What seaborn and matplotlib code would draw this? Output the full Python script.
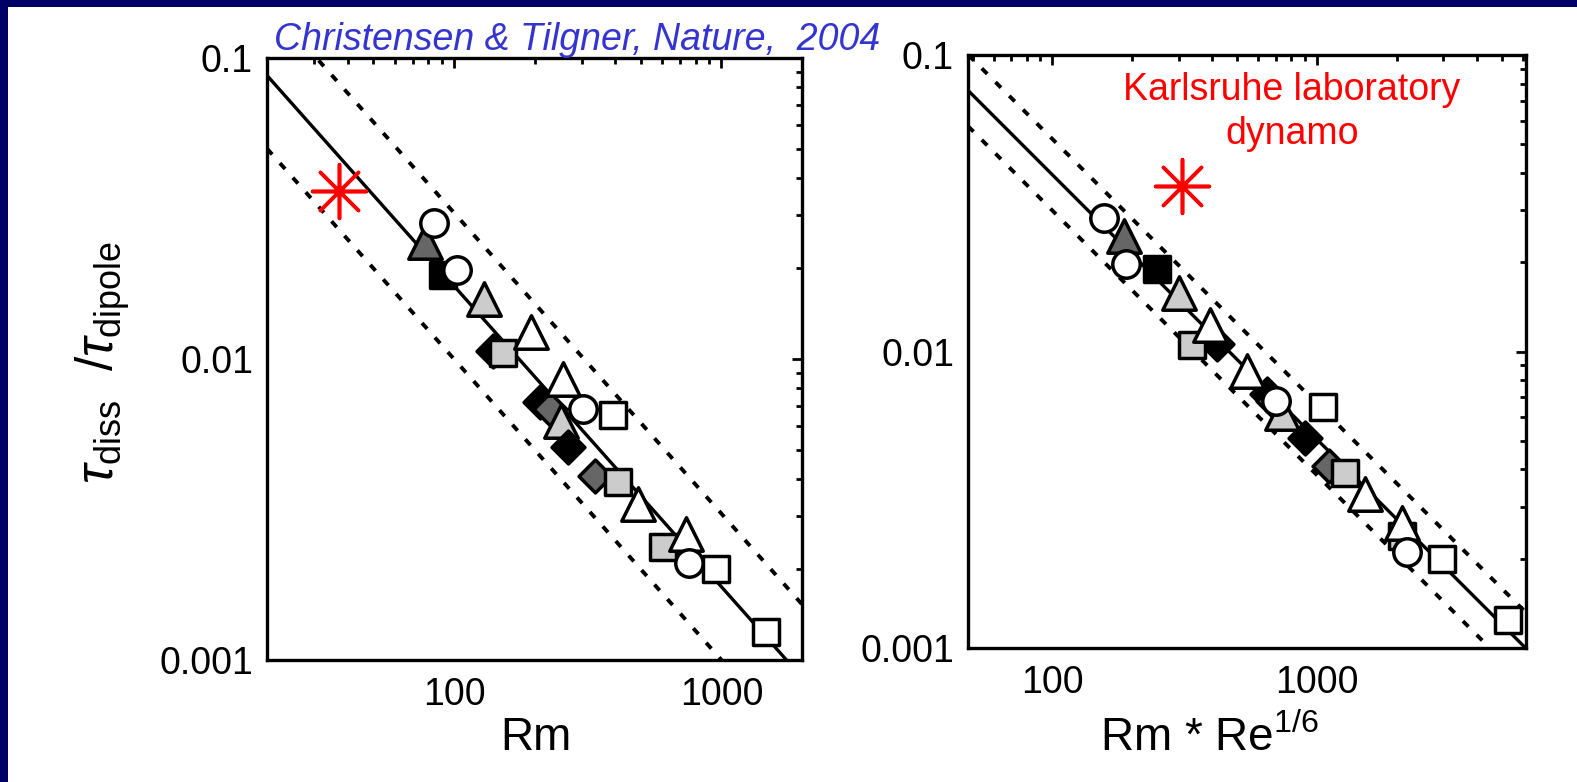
import numpy as np
import pandas as pd
import matplotlib
matplotlib.use("Agg")
import matplotlib.pyplot as plt
import seaborn as sns
from matplotlib.patches import Rectangle
from matplotlib.ticker import LogLocator, FixedLocator, FixedFormatter, NullFormatter

# ---------------- data ----------------
kinds = ["dgray_tri", "open_circle", "black_sq", "open_circle", "lgray_tri",
         "black_dia", "lgray_sq", "open_tri", "black_dia", "dgray_dia",
         "lgray_tri", "open_tri", "black_dia", "open_circle", "open_sq",
         "dgray_dia", "lgray_sq", "open_tri", "lgray_sq", "open_tri",
         "open_circle", "open_sq", "open_sq"]
rm = [78, 84.5, 90.6, 103, 129, 140, 152, 194, 209, 228, 251, 255, 267, 303,
      394, 337, 410, 488, 605, 739, 758, 955, 1462]
rm_re = [186, 157, 248, 190, 300, 417, 337, 395, 646, 680, 736, 543, 902, 700,
         1048, 1110, 1276, 1514, 2090, 2100, 2180, 2960, 5260]
tau_ratio = [0.0245, 0.0282, 0.0190, 0.0198, 0.0158, 0.0106, 0.0105, 0.0123,
             0.0072, 0.0068, 0.0062, 0.0086, 0.0051, 0.0068, 0.0065, 0.0041,
             0.0039, 0.0033, 0.00238, 0.00263, 0.0021, 0.0020, 0.00124]

karlsruhe_rm = [37.2]
karlsruhe_rmre = [308]
karlsruhe_tau = [0.0361]

# fit parameters: tau = A * x**b, dashed = fit * / factor
fit_left = (1.75, -1.0, 1.75)
fit_right = (2.41, -0.893, 1.32)

xlim_left = (20, 2000)
xlim_right = (48, 6150)
ylim = (0.001, 0.1)

x_ticks = [100, 1000]
x_ticklabels = ["100", "1000"]
y_ticks = [0.001, 0.01, 0.1]
y_ticklabels = ["0.001", "0.01", "0.1"]

title_text = "Christensen & Tilgner, Nature,  2004"
annot_text = "Karlsruhe laboratory\ndynamo"

# ---------------- style ----------------
sns.set_style("white")
plt.rcParams["font.family"] = ["Liberation Sans", "DejaVu Sans"]
plt.rcParams["mathtext.fontset"] = "custom"
plt.rcParams["mathtext.rm"] = "Liberation Sans"
plt.rcParams["mathtext.it"] = "Liberation Sans:italic"
plt.rcParams["mathtext.bf"] = "Liberation Sans:bold"
for k in ["text.color", "axes.labelcolor", "xtick.color", "ytick.color",
          "axes.edgecolor"]:
    plt.rcParams[k] = "black"

marker_style = {
    "open_circle": dict(marker="o", color="white", s=390),
    "open_tri": dict(marker="^", color="white", s=580),
    "open_sq": dict(marker="s", color="white", s=330),
    "black_sq": dict(marker="s", color="black", s=330),
    "black_dia": dict(marker="D", color="black", s=280),
    "dgray_dia": dict(marker="D", color="#666666", s=280),
    "dgray_tri": dict(marker="^", color="#666666", s=580),
    "lgray_tri": dict(marker="^", color="#cccccc", s=580),
    "lgray_sq": dict(marker="s", color="#cccccc", s=330),
}

W, H = 1577, 782
fig = plt.figure(figsize=(W / 100, H / 100), dpi=100)
fig.patch.set_facecolor("white")

# navy frame (top and left)
navy = "#000066"
fig.add_artist(Rectangle((0, 1 - 7 / H), 1, 7 / H, transform=fig.transFigure,
                         facecolor=navy, edgecolor="none", zorder=10))
fig.add_artist(Rectangle((0, 0), 8 / W, 1, transform=fig.transFigure,
                         facecolor=navy, edgecolor="none", zorder=10))

ax1 = fig.add_axes([267 / W, (H - 660) / H, 535 / W, 602 / H])
ax2 = fig.add_axes([968 / W, (H - 648) / H, 558 / W, 593 / H])


def draw_panel(ax, xvals, kx, fit, xlim):
    ax.set_xscale("log")
    ax.set_yscale("log")
    A, b, f = fit
    xs = np.geomspace(xlim[0], xlim[1], 200)
    line_df = pd.DataFrame({"x": xs, "mid": A * xs ** b,
                            "up": A * f * xs ** b, "low": A / f * xs ** b})
    sns.lineplot(data=line_df, x="x", y="mid", ax=ax, color="black", lw=2.4,
                 zorder=2)
    for c in ["up", "low"]:
        sns.lineplot(data=line_df, x="x", y=c, ax=ax, color="black", lw=2.8,
                     linestyle=(0, (2.0, 3.0)), zorder=2)
    df = pd.DataFrame({"x": xvals, "y": tau_ratio, "kind": kinds})
    for i, row in df.iterrows():
        st = marker_style[row["kind"]]
        sns.scatterplot(x=[row["x"]], y=[row["y"]], ax=ax, marker=st["marker"],
                        color=st["color"], s=st["s"], edgecolor="black",
                        linewidth=2.5, zorder=3 + i * 0.01, legend=False)
    sns.scatterplot(x=kx, y=karlsruhe_tau, ax=ax, marker=(8, 2, 0),
                    color="red", edgecolor="red", s=1500, linewidth=2.6,
                    zorder=5, legend=False)
    ax.set_xlim(*xlim)
    ax.set_ylim(*ylim)
    ax.xaxis.set_major_locator(FixedLocator(x_ticks))
    ax.xaxis.set_major_formatter(FixedFormatter(x_ticklabels))
    ax.xaxis.set_minor_locator(LogLocator(base=10, subs=np.arange(2, 10)))
    ax.xaxis.set_minor_formatter(NullFormatter())
    ax.yaxis.set_major_locator(FixedLocator(y_ticks))
    ax.yaxis.set_major_formatter(FixedFormatter(y_ticklabels))
    ax.yaxis.set_minor_locator(LogLocator(base=10, subs=np.arange(2, 10)))
    ax.yaxis.set_minor_formatter(NullFormatter())
    ax.tick_params(which="both", direction="in", top=True, right=True,
                   color="black", labelcolor="black", labelsize=27, width=2)
    ax.tick_params(which="major", length=7)
    ax.tick_params(which="minor", length=4)
    ax.tick_params(axis="y", which="major", pad=10)
    ax.tick_params(axis="x", which="major", pad=12)
    for sp in ax.spines.values():
        sp.set_visible(True)
        sp.set_color("black")
        sp.set_linewidth(2.4)
    ax.set_xlabel("")
    ax.set_ylabel("")
    ax.set_facecolor("white")


draw_panel(ax1, rm, karlsruhe_rm, fit_left, xlim_left)
draw_panel(ax2, rm_re, karlsruhe_rmre, fit_right, xlim_right)

# labels
fig.text(536 / W, 1 - 738 / H, "Rm", fontsize=33, ha="center", va="center")
fig.text(1210 / W, 1 - 738 / H, r"Rm * Re$^{\mathrm{1/6}}$", fontsize=33,
         ha="center", va="center")
fig.text(103 / W, 1 - 363 / H,
         r"$\tau_{\mathrm{diss}}\ \ /\tau_{\mathrm{dipole}}$",
         fontsize=37, rotation=90, ha="center", va="center")
fig.text(274 / W, 1 - 40 / H, title_text, fontsize=27, style="italic",
         color="#3434d0", ha="left", va="center")
fig.text(1292 / W, 1 - 112 / H, annot_text, fontsize=27, color="red",
         ha="center", va="center", linespacing=1.25)

fig.savefig("out.png", dpi=100, facecolor="white")
